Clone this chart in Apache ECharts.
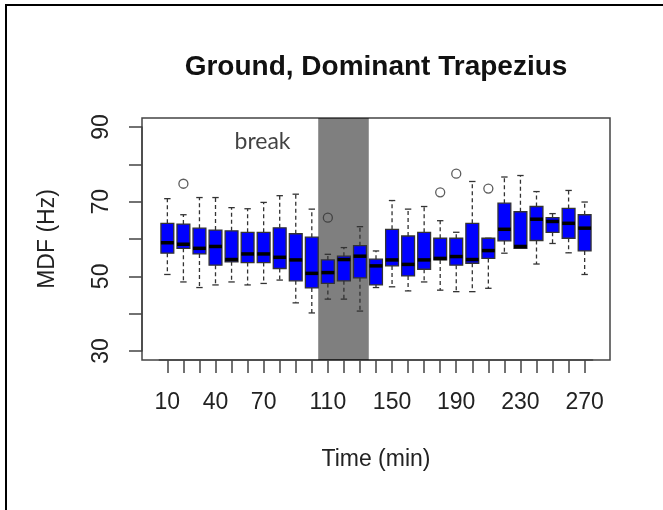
<!DOCTYPE html>
<html>
<head>
<meta charset="utf-8">
<title>Ground, Dominant Trapezius</title>
<script src="https://cdn.jsdelivr.net/npm/echarts@6.0.0/dist/echarts.min.js"></script>
<style>
    html, body { margin: 0; padding: 0; background: #fff; }
    #BoxMDF { position: absolute; left: 0; top: 0; width: 663px; height: 510px; }
    #edge { position: absolute; left: 5px; top: 4px; right: 0; bottom: 0;
            border-left: 2px solid #000; border-top: 2px solid #000; }
</style>
</head>
<body>
<div id="BoxMDF"></div>
<div id="edge"></div>
<script>
// time points (min)
var times = [10, 20, 30, 40, 50, 60, 70, 80, 90, 100, 110, 120, 130, 140,
    150, 160, 170, 180, 190, 200, 210, 220, 230, 240, 250, 260, 270];
// whisker ends, quartiles and medians (Hz)
var lowerW = [50.5, 48.5, 47.0, 47.7, 48.5, 47.7, 48.1, 49.0, 42.9, 40.2, 43.9, 43.9, 40.7, 47.0,
    47.2, 46.1, 48.5, 46.3, 45.9, 45.9, 46.8, 56.2, 57.5, 53.3, 58.8, 56.3, 50.5];
var q1 = [56.2, 57.5, 56.0, 53.0, 53.9, 53.7, 53.7, 52.1, 48.8, 46.9, 48.1, 48.8, 49.6, 47.7,
    52.8, 50.1, 51.9, 54.4, 53.0, 53.5, 54.8, 59.5, 57.5, 59.6, 61.8, 60.2, 56.8];
var median = [59.0, 58.6, 57.5, 58.0, 54.5, 56.0, 56.0, 55.1, 54.4, 50.8, 51.0, 54.5, 55.4, 52.8,
    54.4, 53.2, 54.4, 54.8, 55.3, 54.5, 56.9, 62.6, 58.0, 65.3, 64.7, 64.2, 62.9];
var q3 = [64.2, 64.0, 62.9, 62.4, 62.2, 61.8, 61.8, 63.0, 61.4, 60.5, 54.4, 55.4, 58.2, 54.6,
    62.6, 60.8, 61.8, 60.2, 60.2, 64.2, 60.2, 69.6, 67.3, 68.7, 65.7, 68.2, 66.5];
var upperW = [70.8, 66.5, 71.1, 71.1, 68.4, 68.1, 69.8, 71.6, 72.0, 68.0, 55.9, 57.7, 63.3, 56.8,
    70.3, 68.0, 68.7, 64.9, 61.8, 75.4, 60.2, 76.6, 77.0, 72.7, 66.8, 73.0, 69.9];
// outliers
var outTimes = [20, 110, 180, 190, 210];
var outValues = [74.8, 65.7, 72.5, 77.5, 73.5];
// x labels that R kept
var shownLabels = ["10", "40", "70", "110", "150", "190", "230", "270"];
// break period (min)
var breakStart = 104;
var breakEnd = 135.5;

var boxData = [];
for (var i = 0; i < times.length; i++) {
    boxData.push([times[i], lowerW[i], q1[i], median[i], q3[i], upperW[i]]);
}
var outData = [];
for (var j = 0; j < outTimes.length; j++) {
    outData.push([outTimes[j], outValues[j]]);
}

function renderBox(params, api) {
    var t = api.value(0);
    var pLow = api.coord([t, api.value(1)]);
    var pQ1 = api.coord([t, api.value(2)]);
    var pMed = api.coord([t, api.value(3)]);
    var pQ3 = api.coord([t, api.value(4)]);
    var pHigh = api.coord([t, api.value(5)]);
    var bw = api.size([10, 0])[0];
    var hw = bw * 0.4;
    var sw = bw * 0.2;
    var x = pMed[0];
    var dash = { stroke: "#333", lineWidth: 1.3, lineDash: [4, 3] };
    var solid = { stroke: "#333", lineWidth: 1.3 };
    return {
        type: "group",
        children: [
            { type: "line", shape: { x1: x, y1: pQ3[1], x2: x, y2: pHigh[1] }, style: dash },
            { type: "line", shape: { x1: x, y1: pQ1[1], x2: x, y2: pLow[1] }, style: dash },
            { type: "line", shape: { x1: x - sw, y1: pHigh[1], x2: x + sw, y2: pHigh[1] }, style: solid },
            { type: "line", shape: { x1: x - sw, y1: pLow[1], x2: x + sw, y2: pLow[1] }, style: solid },
            {
                type: "rect",
                shape: { x: x - hw, y: pQ3[1], width: hw * 2, height: pQ1[1] - pQ3[1] },
                style: { fill: "#0000ff", stroke: "#333", lineWidth: 1.3 }
            },
            {
                type: "line",
                shape: { x1: x - hw, y1: pMed[1], x2: x + hw, y2: pMed[1] },
                style: { stroke: "#000", lineWidth: 3.5 }
            }
        ]
    };
}

var axisFont = { fontFamily: "Liberation Sans", fontSize: 23, color: "#222" };

var myChart = echarts.init(document.getElementById("BoxMDF"));
myChart.setOption({
    animation: false,
    backgroundColor: "transparent",
    title: {
        text: "Ground, Dominant Trapezius",
        left: 376,
        top: 53,
        textAlign: "center",
        padding: 0,
        textStyle: { fontFamily: "Liberation Sans", fontSize: 28, fontWeight: "bold", color: "#111" }
    },
    grid: [
        // plot frame (R usr coordinates)
        { left: 142, top: 118, width: 468, height: 242, show: true, borderColor: "#444",
          borderWidth: 1.5, backgroundColor: "transparent", outerBoundsMode: "none" },
        // axes, ticks from 10..270 and 30..90
        { left: 159.33, top: 126.96, width: 433.3, height: 224.07, outerBoundsMode: "none" }
    ],
    xAxis: [
        { type: "value", gridIndex: 0, min: -5.8, max: 285.8, show: false },
        {
            type: "category", gridIndex: 1, data: times.map(String), offset: 9,
            boundaryGap: true,
            axisLine: { show: true, lineStyle: { color: "#444", width: 1.5 } },
            axisTick: { show: true, alignWithLabel: true, interval: 0, length: 13,
                        lineStyle: { color: "#444", width: 1.5 } },
            axisLabel: Object.assign({
                margin: 31,
                interval: function (idx, val) { return shownLabels.indexOf(val) >= 0; }
            }, axisFont),
            name: "Time (min)", nameLocation: "middle", nameGap: 88,
            nameTextStyle: axisFont
        }
    ],
    yAxis: [
        { type: "value", gridIndex: 0, min: 27.6, max: 92.4, show: false },
        {
            type: "value", gridIndex: 1, min: 30, max: 90, interval: 10, offset: 17.33,
            splitLine: { show: false },
            axisLine: { show: true, lineStyle: { color: "#444", width: 1.5 } },
            axisTick: { show: true, length: 13, lineStyle: { color: "#444", width: 1.5 } },
            axisLabel: Object.assign({
                rotate: 90, margin: 29,
                showMinLabel: true, showMaxLabel: true,
                formatter: function (v) { return v % 20 === 10 ? String(v) : ""; }
            }, axisFont),
            name: "MDF (Hz)", nameLocation: "middle", nameRotate: 90, nameGap: 83,
            nameTextStyle: axisFont
        }
    ],
    series: [
        {
            name: "MDF",
            type: "custom",
            xAxisIndex: 0,
            yAxisIndex: 0,
            renderItem: renderBox,
            encode: { x: 0, y: [1, 2, 3, 4, 5] },
            data: boxData,
            z: 2
        },
        {
            name: "outliers",
            type: "scatter",
            xAxisIndex: 0,
            yAxisIndex: 0,
            symbol: "circle",
            symbolSize: 9,
            itemStyle: { color: "transparent", borderColor: "#333", borderWidth: 1.3 },
            data: outData,
            z: 3
        },
        {
            name: "break",
            type: "scatter",
            xAxisIndex: 0,
            yAxisIndex: 0,
            symbolSize: 0,
            data: [[69.3, 86.0]],
            label: {
                show: true, position: "inside", formatter: "break",
                fontFamily: "Lato", fontSize: 23, color: "#111"
            },
            markArea: {
                silent: true,
                itemStyle: { color: "rgba(0,0,0,0.5)" },
                label: { show: false },
                data: [[{ xAxis: breakStart }, { xAxis: breakEnd }]]
            },
            z: 10
        }
    ]
});
</script>
</body>
</html>
